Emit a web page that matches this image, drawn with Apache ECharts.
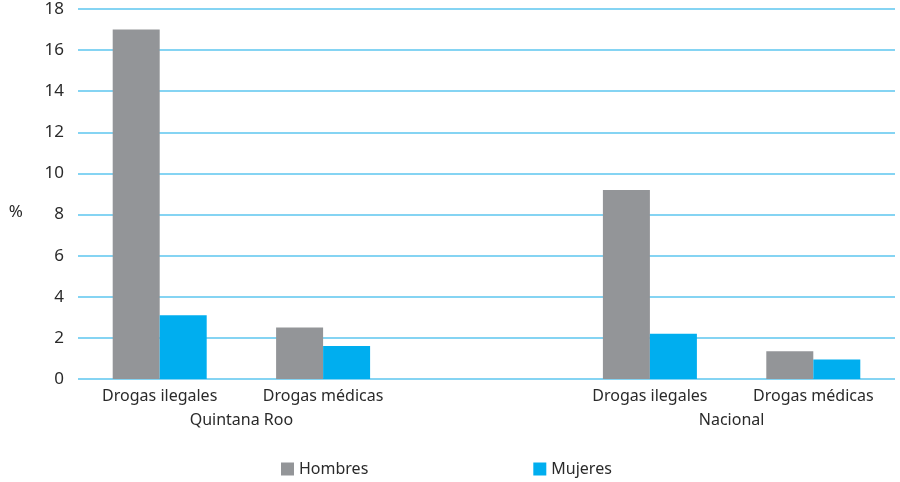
<!DOCTYPE html>
<html><head><meta charset="utf-8">
<script src="https://cdn.jsdelivr.net/npm/echarts@6/dist/echarts.min.js"></script>
<style>html,body{margin:0;padding:0;background:#fff}#c{width:900px;height:482px}</style>
</head><body><div id="c"></div>
<script>
const categories = ["Drogas ilegales", "Drogas médicas", "", "Drogas ilegales", "Drogas médicas"];
const groupLabels = ["", "", "Quintana Roo", "", "", "", "", "", "Nacional", "", ""];
const hombres = [17.0, 2.5, null, 9.2, 1.35];
const mujeres = [3.1, 1.6, null, 2.2, 0.95];
const yTicks = { min: 0, max: 18, interval: 2 };

const font = "Noto Sans";
const txt = '#2a2a2a';
const chart = echarts.init(document.getElementById('c'));
chart.setOption({
  animation: false,
  textStyle: { fontFamily: font },
  grid: { left: 78, right: 5, top: 9, bottom: 103 },
  legend: {
    data: ["Hombres", "Mujeres"],
    left: 276, top: 456,
    icon: 'rect', itemWidth: 13, itemHeight: 13, itemGap: 165,
    textStyle: { fontFamily: font, fontSize: 16, color: txt }
  },
  xAxis: [{
    type: 'category', data: categories,
    axisLine: { show: false }, axisTick: { show: false },
    axisLabel: { fontFamily: font, fontSize: 16, color: txt, margin: 9, interval: 0 }
  }, {
    type: 'category', data: groupLabels, boundaryGap: false, position: 'bottom',
    axisLine: { show: false }, axisTick: { show: false },
    axisLabel: { fontFamily: font, fontSize: 16, color: txt, margin: 33, interval: 0 }
  }],
  yAxis: {
    type: 'value', min: yTicks.min, max: yTicks.max, interval: yTicks.interval,
    name: '%', nameLocation: 'middle', nameRotate: 0, nameGap: 55,
    nameTextStyle: { fontFamily: font, fontSize: 17, color: txt, verticalAlign: 'top', padding: [10, 0, 0, 0] },
    axisLine: { show: false }, axisTick: { show: false },
    axisLabel: { fontFamily: font, fontSize: 17, color: txt, margin: 14 },
    splitLine: { lineStyle: { color: '#5cc6ef', width: 1.5 } }
  },
  series: [
    { name: 'Hombres', type: 'bar', data: hombres, barWidth: 47, barGap: '0%', itemStyle: { color: '#939598' } },
    { name: 'Mujeres', type: 'bar', data: mujeres, barWidth: 47, barGap: '0%', itemStyle: { color: '#00aeef' } }
  ]
});
</script></body></html>
